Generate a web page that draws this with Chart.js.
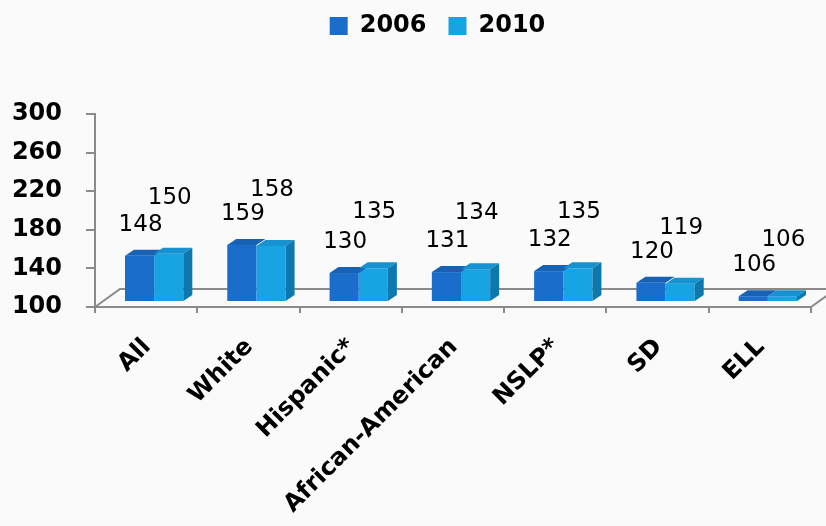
<!DOCTYPE html>
<html>
<head>
<meta charset="utf-8">
<script src="https://cdn.jsdelivr.net/npm/chart.js@4.4.1/dist/chart.umd.min.js"></script>
<style>
  html, body { margin: 0; padding: 0; background: #fafafa; }
  #wrap { width: 826px; height: 526px; }
</style>
</head>
<body>
<div id="wrap"><canvas id="chart" width="826" height="526"></canvas></div>
<script>
// ===== DATA =====
const groups = ['All', 'White', 'Hispanic*', 'African-American', 'NSLP*', 'SD', 'ELL'];
const scores2006 = [148, 159, 130, 131, 132, 120, 106];
const scores2010 = [150, 158, 135, 134, 135, 119, 106];
const yTicks = [100, 140, 180, 220, 260, 300];

const FONT = '"DejaVu Sans", sans-serif';
const AXIS_GRAY = '#8a8a8a';

// fake 3D: bar depth, shift of bars into the middle of the floor, floor depth
const DEPTH = { x: 9, y: -6 };
const SHIFT = { x: 8, y: -5 };
const FLOOR = { x: 25, y: -18 };

// ===== 3D BOXES + FLOOR =====
const box3d = {
    id: 'box3d',
    afterLayout(chart) {
        // legend sits a bit right of centre and close to the top edge
        const lg = chart.legend;
        lg.left += 32; lg.right += 32;
        lg.top -= 66; lg.bottom -= 66;
    },
    beforeDatasetsDraw(chart) {
        const { ctx, chartArea: a } = chart;
        ctx.save();
        ctx.strokeStyle = AXIS_GRAY;
        ctx.lineWidth = 2;
        ctx.beginPath();
        ctx.moveTo(a.left, a.bottom);
        ctx.lineTo(a.left + FLOOR.x, a.bottom + FLOOR.y);
        ctx.lineTo(a.right + FLOOR.x, a.bottom + FLOOR.y);
        ctx.moveTo(a.right, a.bottom);
        ctx.lineTo(a.right + FLOOR.x, a.bottom + FLOOR.y);
        ctx.stroke();
        ctx.restore();
        // bars sit halfway back on the floor
        ctx.save();
        ctx.translate(SHIFT.x, SHIFT.y);
    },
    afterDatasetsDraw(chart) {
        const ctx = chart.ctx;
        const last = chart.data.datasets.length - 1;
        chart.data.datasets.forEach((ds, i) => {
            chart.getDatasetMeta(i).data.forEach(bar => {
                const { x, y, base, width } = bar.getProps(['x', 'y', 'base', 'width'], true);
                const l = x - width / 2, r = x + width / 2;
                ctx.fillStyle = ds.topColor;
                ctx.beginPath();
                ctx.moveTo(l, y);
                ctx.lineTo(l + DEPTH.x, y + DEPTH.y);
                ctx.lineTo(r + DEPTH.x, y + DEPTH.y);
                ctx.lineTo(r, y);
                ctx.closePath();
                ctx.fill();
                if (i === last) {
                    ctx.fillStyle = ds.sideColor;
                    ctx.beginPath();
                    ctx.moveTo(r, y);
                    ctx.lineTo(r + DEPTH.x, y + DEPTH.y);
                    ctx.lineTo(r + DEPTH.x, base + DEPTH.y);
                    ctx.lineTo(r, base);
                    ctx.closePath();
                    ctx.fill();
                }
            });
        });
        ctx.restore();

        // value labels, 2010 staggered higher than 2006
        ctx.save();
        ctx.fillStyle = '#000';
        ctx.font = 'normal 23px ' + FONT;
        ctx.textAlign = 'center';
        ctx.textBaseline = 'middle';
        chart.data.datasets.forEach((ds, i) => {
            chart.getDatasetMeta(i).data.forEach((bar, j) => {
                ctx.fillText(String(ds.data[j]), bar.x + SHIFT.x + 1, bar.y + SHIFT.y - ds.labelLift);
            });
        });
        ctx.restore();
    }
};

// ===== CHART =====
new Chart(document.getElementById('chart'), {
    type: 'bar',
    data: {
        labels: groups,
        datasets: [
            { label: '2006', data: scores2006, base: yTicks[0], backgroundColor: '#1a6dca', topColor: '#1862b6', sideColor: '#0f6fa6', labelLift: 31, clip: false },
            { label: '2010', data: scores2010, base: yTicks[0], backgroundColor: '#18a3e2', topColor: '#1592cf', sideColor: '#0d78ad', labelLift: 56, clip: false }
        ]
    },
    options: {
        responsive: false,
        animation: false,
        categoryPercentage: 0.57,
        barPercentage: 1,
        layout: { padding: { left: 0, right: 15, top: 58, bottom: 0 } },
        plugins: {
            tooltip: { enabled: false },
            legend: {
                position: 'top',
                labels: {
                    boxWidth: 18, boxHeight: 18, padding: 22,
                    color: '#000',
                    font: { family: FONT, size: 24, weight: 'bold' }
                }
            }
        },
        scales: {
            x: {
                border: { color: AXIS_GRAY, width: 2 },
                grid: { drawOnChartArea: false, color: AXIS_GRAY, lineWidth: 2, tickLength: 6 },
                ticks: {
                    color: '#000', autoSkip: false, maxRotation: 45, minRotation: 45,
                    padding: 20, labelOffset: 1,
                    font: { family: FONT, size: 24, weight: 'bold' }
                },
                afterFit: s => { s.height = 219; }
            },
            y: {
                min: 100, max: 300,
                beginAtZero: false,
                afterBuildTicks: s => { s.ticks = yTicks.map(v => ({ value: v })); },
                border: { color: AXIS_GRAY, width: 2 },
                grid: { drawOnChartArea: false, color: AXIS_GRAY, lineWidth: 2, tickLength: 9 },
                ticks: { color: '#000', padding: 24, font: { family: FONT, size: 24, weight: 'bold' } },
                afterFit: s => { s.width = 95; }
            }
        }
    },
    plugins: [box3d]
});
</script>
</body>
</html>
